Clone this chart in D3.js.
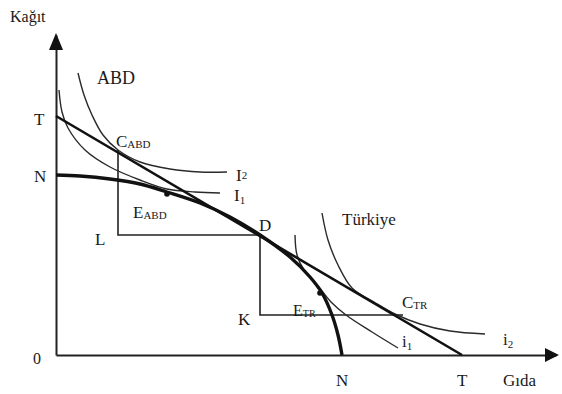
<!DOCTYPE html>
<html><head><meta charset="utf-8">
<script src="https://cdn.jsdelivr.net/npm/d3@7"></script>
<style>
html,body{margin:0;padding:0;background:#fff;}
svg{display:block;}
</style></head>
<body>
<script>
// ---- data (arbitrary units: Gıda on x, Kağıt on y) ----
const ppf = [[0,180],[24,179],[54,176],[84,171],[111,163],[144,152],[174,138],[204,120],[234,98],[254,78],[266,62],[276,40],[282,20],[286,0]];
const ttLine = [[0,239],[406,0]];
const abdI2 = [[22,282],[28,260],[36,240],[47,220],[62,205],[84,193],[114,186],[144,183],[171,183]];
const abdI1 = [[3,265],[6,243],[12,227],[29,205],[54,188],[84,175],[111,166],[139,163],[164,162]];
const trI2 = [[266,142],[272,115],[282,90],[296,67],[318,53],[339,41],[364,31],[394,24],[429,21]];
const trI1 = [[239,120],[241,100],[248,85],[257,75],[266,64],[275,53],[290,40],[316,23],[342,7]];
const abdTriangle = [[62,205],[62,120],[204,120]];
const trTriangle = [[204,120],[204,40],[347,40]];
const dots = [[111,162],[264,63]];

const W = 562, H = 394;
const FONT = "'Liberation Serif', 'Times New Roman', serif";
const x = d3.scaleLinear().domain([0,500]).range([56,556]);
const y = d3.scaleLinear().domain([0,320]).range([355,35]);

const svg = d3.select("body").append("svg").attr("width",W).attr("height",H);

// axes (no ticks)
svg.append("g").attr("transform",`translate(0,${y(0)})`)
  .call(d3.axisBottom(x).ticks(0).tickSizeOuter(0))
  .call(g=>g.select(".domain").attr("stroke","#222").attr("stroke-width",2));
svg.append("g").attr("transform",`translate(${x(0)},0)`)
  .call(d3.axisLeft(y).ticks(0).tickSizeOuter(0))
  .call(g=>g.select(".domain").attr("stroke","#222").attr("stroke-width",2));
// arrowheads
svg.append("path").attr("d",`M${x(0)},${y(322)} L${x(0)-7},${y(305)} L${x(0)+7},${y(305)} Z`).attr("fill","#111");
svg.append("path").attr("d",`M${x(503)},${y(0)} L${x(489)},${y(0)-7} L${x(489)},${y(0)+7} Z`).attr("fill","#111");

const curve = d3.line().x(d=>x(d[0])).y(d=>y(d[1])).curve(d3.curveCatmullRom.alpha(0.5));
const straight = d3.line().x(d=>x(d[0])).y(d=>y(d[1]));

// triangles
svg.append("path").attr("d",straight(abdTriangle)).attr("fill","none").attr("stroke","#222").attr("stroke-width",1.6);
svg.append("path").attr("d",straight(trTriangle)).attr("fill","none").attr("stroke","#222").attr("stroke-width",1.6);

// indifference curves
[abdI2,abdI1,trI2,trI1].forEach(c=>{
  svg.append("path").attr("d",curve(c)).attr("fill","none").attr("stroke","#2a2a2a").attr("stroke-width",1.4);
});
// terms of trade line
svg.append("path").attr("d",straight(ttLine)).attr("fill","none").attr("stroke","#111").attr("stroke-width",2.6);
// PPF
svg.append("path").attr("d",curve(ppf)).attr("fill","none").attr("stroke","#111").attr("stroke-width",3.4);
// dots
svg.selectAll("circle.dot").data(dots).enter().append("circle")
  .attr("cx",d=>x(d[0])).attr("cy",d=>y(d[1])+1).attr("r",2.8).attr("fill","#111");

// labels
function lab(txt,px,py,size,sub,subSize,subDy){
  const t = svg.append("text").attr("x",px).attr("y",py)
    .attr("font-family",FONT).style("font-family",FONT)
    .attr("fill","#1a1a1a").attr("font-size",size).text(txt);
  if(sub){ t.append("tspan").attr("font-size",subSize||10).attr("dy",subDy||0).text(sub); }
  return t;
}
lab("Kağıt",10,22,16);
lab("ABD",97,84,18);
lab("T",34,125,17);
lab("N",34,182,17);
lab("C",116,147,17,"ABD",11,1);
lab("I",236,181,17,"2",11,-2);
lab("I",234,201,17,"1",11,3);
lab("E",133,218,17,"ABD",11,1);
lab("L",95,245,17);
lab("D",259,231,17);
lab("Türkiye",342,225,17);
lab("K",238,325,17);
lab("E",293,316,16,"TR",10,1);
lab("C",402,308,17,"TR",11,1);
lab("i",402,347,17,"1",11,3);
lab("i",503,345,17,"2",11,3);
lab("0",33,364,16);
lab("N",336,386,17);
lab("T",457,386,17);
lab("Gıda",503,386,17);
</script>
</body></html>
